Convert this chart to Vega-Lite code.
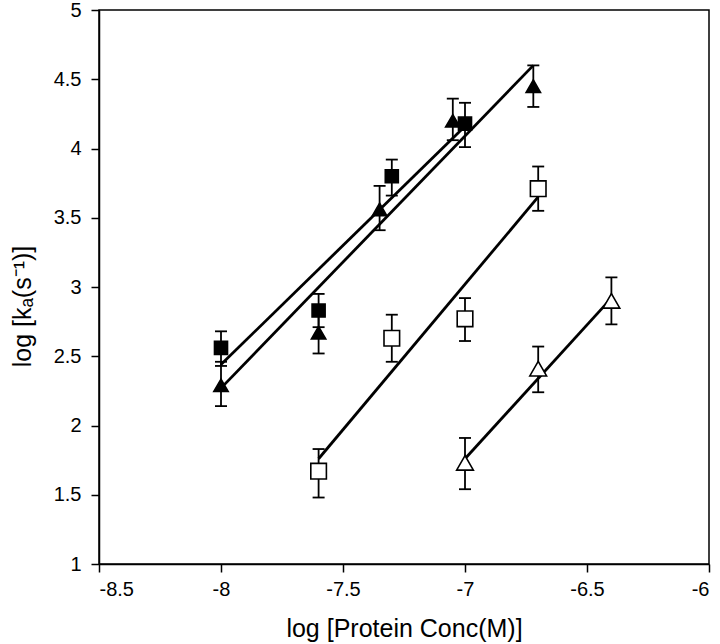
{
  "$schema": "https://vega.github.io/schema/vega-lite/v6.json",
  "autosize": {"type": "none"},
  "padding": {"left": 99, "top": 10, "right": 11, "bottom": 80},
  "width": 610,
  "height": 554,
  "background": "white",
  "config": {
    "font": "Liberation Sans",
    "view": {"stroke": "black", "strokeWidth": 1.5},
    "axis": {
      "grid": false,
      "domainColor": "black",
      "domainWidth": 1.5,
      "tickColor": "black",
      "tickWidth": 1.5,
      "tickSize": 8,
      "labelColor": "black",
      "labelFontSize": 20,
      "labelFont": "Liberation Sans",
      "labelExpr": "'' + datum.value",
      "titleColor": "black",
      "titleFontSize": 25,
      "titleFontWeight": "normal",
      "titleFont": "Liberation Sans"
    }
  },
  "datasets": {
    "pts": [
      {"series": "A", "x": -8.0, "y": 2.56, "lo": 2.43, "hi": 2.68},
      {"series": "A", "x": -7.6, "y": 2.83, "lo": 2.71, "hi": 2.95},
      {"series": "A", "x": -7.3, "y": 3.80, "lo": 3.66, "hi": 3.92},
      {"series": "A", "x": -7.0, "y": 4.18, "lo": 4.01, "hi": 4.33},
      {"series": "B", "x": -8.0, "y": 2.29, "lo": 2.14, "hi": 2.46},
      {"series": "B", "x": -7.6, "y": 2.67, "lo": 2.52, "hi": 2.83},
      {"series": "B", "x": -7.35, "y": 3.56, "lo": 3.41, "hi": 3.73},
      {"series": "B", "x": -7.05, "y": 4.20, "lo": 4.06, "hi": 4.36},
      {"series": "B", "x": -6.72, "y": 4.45, "lo": 4.30, "hi": 4.60},
      {"series": "C", "x": -7.6, "y": 1.67, "lo": 1.48, "hi": 1.83},
      {"series": "C", "x": -7.3, "y": 2.63, "lo": 2.46, "hi": 2.80},
      {"series": "C", "x": -7.0, "y": 2.77, "lo": 2.61, "hi": 2.92},
      {"series": "C", "x": -6.7, "y": 3.71, "lo": 3.55, "hi": 3.87},
      {"series": "D", "x": -7.0, "y": 1.73, "lo": 1.54, "hi": 1.91},
      {"series": "D", "x": -6.7, "y": 2.41, "lo": 2.24, "hi": 2.57},
      {"series": "D", "x": -6.4, "y": 2.90, "lo": 2.73, "hi": 3.07}
    ],
    "fits": [
      {"series": "A", "x": -8.0, "y": 2.44},
      {"series": "A", "x": -7.0, "y": 4.16},
      {"series": "B", "x": -8.0, "y": 2.27},
      {"series": "B", "x": -6.72, "y": 4.60},
      {"series": "C", "x": -7.6, "y": 1.76},
      {"series": "C", "x": -6.7, "y": 3.65},
      {"series": "D", "x": -7.0, "y": 1.76},
      {"series": "D", "x": -6.4, "y": 2.92}
    ]
  },
  "encoding": {
    "x": {
      "field": "x", "type": "quantitative",
      "scale": {"domain": [-8.5, -6], "nice": false, "zero": false},
      "axis": {"values": [-8.5, -8, -7.5, -7, -6.5, -6], "labelPadding": 7, "title": "log [Protein Conc(M)]", "titleY": 64, "titleBaseline": "middle"}
    },
    "y": {
      "field": "y", "type": "quantitative",
      "scale": {"domain": [1, 5], "nice": false, "zero": false},
      "axis": {"values": [1, 1.5, 2, 2.5, 3, 3.5, 4, 4.5, 5], "labelPadding": 10, "title": "log [kₐ(s⁻¹)]", "titleX": -77, "titleY": 296, "titleBaseline": "middle", "titleAlign": "center", "titleAngle": -90}
    }
  },
  "layer": [
    {
      "data": {"name": "pts"},
      "mark": {"type": "rule", "color": "black", "strokeWidth": 1.8},
      "encoding": {"y": {"field": "lo", "type": "quantitative"}, "y2": {"field": "hi"}}
    },
    {
      "data": {"name": "pts"},
      "mark": {"type": "tick", "orient": "horizontal", "color": "black", "thickness": 1.8, "size": 12, "opacity": 1},
      "encoding": {"y": {"field": "lo", "type": "quantitative"}}
    },
    {
      "data": {"name": "pts"},
      "mark": {"type": "tick", "orient": "horizontal", "color": "black", "thickness": 1.8, "size": 12, "opacity": 1},
      "encoding": {"y": {"field": "hi", "type": "quantitative"}}
    },
    {
      "data": {"name": "fits"},
      "mark": {"type": "line", "color": "black", "strokeWidth": 2.8},
      "encoding": {"detail": {"field": "series"}}
    },
    {
      "data": {"name": "pts"},
      "mark": {"type": "point", "filled": false, "stroke": "black", "strokeWidth": 1.6, "opacity": 1},
      "encoding": {
        "shape": {"field": "series", "type": "nominal", "scale": {"domain": ["A", "B", "C", "D"], "range": ["square", "triangle-up", "square", "triangle-up"]}, "legend": null},
        "fill": {"field": "series", "type": "nominal", "scale": {"domain": ["A", "B", "C", "D"], "range": ["black", "black", "white", "white"]}, "legend": null},
        "size": {"field": "series", "type": "nominal", "scale": {"domain": ["A", "B", "C", "D"], "range": [170, 280, 130, 260]}, "legend": null}
      }
    }
  ]
}
